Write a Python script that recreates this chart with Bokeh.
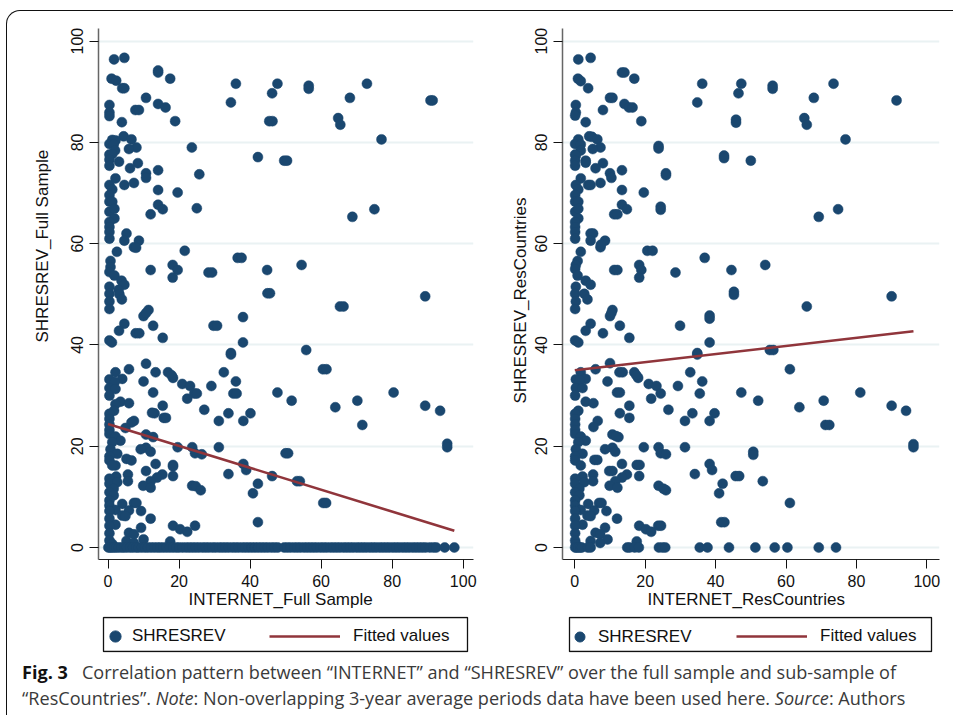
from bokeh.plotting import figure
from bokeh.layouts import column, row
from bokeh.models import Legend, LegendItem, FixedTicker, Range1d, Div, BoxAnnotation, Title
from bokeh.embed import file_html
from bokeh.resources import INLINE

ticks = [0, 20, 40, 60, 80, 100]
y_title_full = "SHRESREV_Full Sample"
x_title_full = "INTERNET_Full Sample"
y_title_res = "SHRESREV_ResCountries"
x_title_res = "INTERNET_ResCountries"
series_name = "SHRESREV"
fit_name = "Fitted values"

full_pts = [
(1.7,96.4),(4.6,96.7),(14.1,93.8),(14.1,94.2),(17.5,92.6),(1.0,92.6),(2.3,92.2),(4.0,90.7),(4.6,90.7),(36.0,91.6),(47.7,91.6),(56.5,91.2),(56.5,90.6),(72.9,91.6),(46.2,89.7),(10.7,88.8),(68.1,88.8),(90.8,88.3),(91.4,88.3),(34.6,87.9),(14.1,87.6),(16.2,86.9),(0.4,87.4),(7.7,86.4),(8.7,86.4),(0.4,85.9),(0.4,85.2),(3.9,84.0),(18.9,84.2),(45.4,84.2),(46.3,84.2),(64.8,84.8),(65.4,83.5),(4.4,81.2),(6.6,80.6),(1.2,80.5),(2.1,80.4),(0.4,79.7),(1.6,79.6),(77.0,80.6),(8.0,79.0),(5.9,78.7),(23.6,79.0),(2.0,78.4),(0.4,77.6),(1.2,77.7),(42.2,77.1),(0.4,76.6),(0.4,75.4),(3.1,76.2),(49.6,76.4),(50.4,76.4),(8.4,75.9),(6.2,74.9),(14.1,74.5),(10.7,73.9),(10.7,73.0),(25.7,73.7),(2.1,72.9),(0.4,71.6),(4.6,71.6),(7.3,72.0),(1.2,70.7),(14.1,70.6),(19.6,70.1),(0.4,69.6),(0.4,68.3),(1.2,68.3),(14.1,67.7),(15.4,66.8),(25.0,67.0),(75.0,66.8),(0.4,66.3),(1.8,66.9),(12.0,65.8),(68.8,65.3),(1.8,65.0),(0.4,64.3),(0.4,63.3),(0.4,62.3),(0.4,61.0),(5.2,62.0),(8.7,60.6),(4.6,60.6),(7.3,59.3),(7.9,59.2),(2.5,58.4),(21.6,58.6),(0.7,56.6),(36.5,57.2),(37.6,57.2),(0.7,55.4),(0.4,54.4),(54.5,55.8),(18.2,55.8),(12.0,54.8),(19.6,54.8),(44.8,54.8),(28.3,54.3),(29.3,54.3),(1.8,53.7),(18.2,53.3),(3.8,52.7),(4.6,51.9),(0.4,51.5),(3.0,50.9),(0.4,50.1),(44.9,50.2),(45.6,50.2),(3.2,50.0),(89.3,49.6),(3.9,49.0),(65.3,47.6),(66.3,47.6),(0.4,48.6),(0.4,47.1),(11.4,46.9),(10.0,45.7),(10.7,46.3),(38.0,45.5),(4.6,44.2),(12.7,43.8),(29.7,43.8),(30.7,43.8),(3.1,42.8),(7.8,42.3),(8.8,42.3),(15.4,41.4),(0.4,40.9),(1.1,40.5),(38.0,40.5),(34.6,38.4),(55.8,39.0),
(10.7,36.3),(34.6,38.1),(2.1,34.6),(5.9,35.2),(13.4,34.6),(16.9,34.6),(18.3,33.5),(17.9,34.0),(32.6,34.6),(60.5,35.2),(61.5,35.2),(0.4,33.2),(4.0,33.3),(1.9,32.7),(10.0,32.8),(36.0,32.8),(20.9,32.3),(23.1,31.9),(29.1,31.9),(0.4,31.5),(2.1,31.3),(12.7,30.6),(24.3,30.4),(25.0,30.4),(35.3,30.4),(36.2,30.4),(47.7,30.6),(80.4,30.6),(0.4,30.0),(22.3,29.4),(51.7,29.0),(70.2,29.0),(3.5,28.8),(2.1,28.3),(5.9,28.5),(15.4,28.0),(89.3,28.0),(93.5,27.0),(64.0,27.7),(27.1,27.2),(13.1,26.5),(12.4,26.6),(33.9,26.5),(40.1,26.5),(1.7,27.0),(0.4,26.4),(15.7,25.6),(16.3,25.6),(31.2,25.0),(38.1,25.0),(0.4,25.4),(7.3,25.0),(6.6,24.7),(71.6,24.2),(0.4,24.3),(4.9,23.6),(0.4,23.2),(0.4,22.4),(10.7,22.3),(12.7,21.8),(2.1,21.9),(3.5,21.1),(1.2,20.8),(95.5,20.5),(95.5,19.8),(19.6,19.8),(31.2,19.8),(23.7,19.8),(10.7,19.7),(9.2,19.4),(0.7,19.4),(12.0,18.9),(24.5,18.6),(26.4,18.4),(50.7,18.6),(50.0,18.6),(2.6,18.5),(0.4,18.0),(5.2,17.5),(6.6,17.2),(0.4,17.2),(2.1,16.2),(13.4,16.5),(18.3,16.3),(18.3,16.0),(38.1,16.5),(1.2,16.2),(38.9,15.3),(10.7,15.1),(5.6,14.4),(33.9,14.5),(15.3,14.4),(2.3,14.0),(18.3,14.1),(46.2,14.1),(0.4,13.6),(13.8,13.8),(5.6,13.1),(12.0,13.1),(53.2,13.1),(54.0,13.1),(0.4,12.6),(2.6,12.9),(42.2,12.6),(9.9,12.2),(23.7,12.2),(24.7,12.1),(1.6,11.6),(12.0,11.8),(26.1,11.3),(0.4,10.9),(40.8,10.7),(1.6,10.3),(0.4,9.3),(60.6,8.8),(61.4,8.8),(4.0,8.6),(7.3,8.8),(8.0,8.8),(0.4,8.3),(2.1,7.4),(9.3,7.2),(5.9,7.3),(0.4,7.2),(4.0,6.3),(4.9,6.2),(12.0,5.7),(0.4,5.7),(42.2,5.0),(2.1,4.5),(18.3,4.3),(24.5,4.3),(0.4,4.3),(9.3,3.9),(20.3,3.6),(22.3,3.1),(5.9,2.9),(0.4,2.8),(7.3,2.6),(5.2,1.3),(10.0,1.6),(17.5,1.2),(7.3,0.9),(0.4,1.4),(1.2,0.7),
]
full_x = [p[0] for p in full_pts]
full_y = [p[1] for p in full_pts]

full_zero_x = [0.1,0.6,1.1,1.7,2.3,3.0,3.8,4.5,5.3,6.2,7.0,7.9,8.6,9.5,10.4,11.2,12.1,13.0,13.9,14.7,15.6,16.5,17.4,18.3,19.2,20.0,21.0,22.0,22.9,23.8,24.7,25.6,26.6,27.5,28.4,29.4,30.3,31.3,32.2,33.1,34.0,35.0,35.9,36.8,37.8,38.7,39.6,40.5,41.4,42.3,43.2,44.1,45.0,46.0,46.9,47.8,49.6,50.5,51.4,52.4,53.3,54.2,55.2,56.1,57.0,57.9,58.8,59.8,60.7,61.6,62.6,63.5,64.4,65.3,66.3,67.2,68.1,69.0,70.0,70.9,71.8,72.7,73.7,74.6,75.5,76.5,77.4,78.3,79.2,80.2,81.1,82.0,83.0,83.9,84.8,85.8,86.7,87.6,88.5,89.4,90.6,91.6,92.4,94.8,97.5]
full_zero_y = [0.0 for _ in full_zero_x]

res_pts = [
(1.0,96.4),(4.5,96.7),(13.4,93.8),(14.1,93.8),(16.9,92.6),(0.9,92.6),(1.7,92.1),(3.8,90.7),(36.2,91.6),(47.3,91.6),(56.2,91.2),(56.2,90.6),(73.5,91.6),(46.5,89.7),(10.0,88.8),(10.7,88.8),(67.9,88.8),(91.4,88.3),(34.8,87.9),(14.1,87.6),(15.4,86.9),(16.4,86.9),(0.3,87.4),(8.0,86.4),(0.3,85.9),(0.1,85.3),(3.1,84.0),(18.9,84.2),(45.8,84.5),(45.8,83.9),(65.2,84.8),(65.9,83.5),(4.1,81.2),(4.9,81.1),(6.4,80.6),(1.0,80.6),(0.1,79.7),(1.7,79.6),(76.9,80.6),(7.3,79.0),(5.1,78.7),(23.8,79.3),(23.8,78.8),(1.7,78.4),(0.1,77.6),(0.3,77.4),(42.4,77.4),(42.4,76.9),(0.1,76.4),(0.1,75.4),(3.1,76.4),(3.1,76.0),(50.0,76.4),(8.0,75.9),(5.9,74.9),(13.4,74.5),(10.0,73.9),(10.4,73.0),(25.9,73.9),(25.9,73.5),(1.7,72.9),(0.3,71.6),(3.8,71.6),(4.5,71.6),(7.3,72.0),(1.0,70.7),(13.4,70.6),(19.6,70.1),(0.1,69.6),(0.1,68.3),(1.0,68.3),(13.4,67.7),(14.8,66.8),(24.4,67.3),(24.4,66.7),(74.8,66.8),(0.1,66.3),(1.0,66.9),(11.2,65.8),(12.1,65.8),(69.3,65.3),(1.0,65.0),(0.1,64.3),(0.1,63.3),(0.1,62.3),(0.1,61.0),(4.5,62.0),(5.2,62.0),(8.6,60.6),(4.5,60.6),(7.3,59.3),(7.4,59.8),(1.7,58.4),(20.6,58.6),(22.1,58.6),(0.8,56.6),(36.9,57.2),(0.3,55.8),(0.1,55.0),(54.1,55.8),(18.3,55.8),(11.2,54.8),(12.1,54.8),(18.9,54.8),(44.5,54.8),(28.6,54.3),(0.8,53.7),(18.3,53.3),(3.1,52.7),(4.5,51.9),(0.3,51.5),(0.1,50.1),(2.7,50.1),(45.2,50.5),(45.2,49.9),(90.0,49.6),(3.6,49.0),(65.9,47.6),(0.3,48.6),(0.1,47.1),(10.7,46.9),(10.0,45.7),(10.4,46.3),(38.3,45.8),(38.3,45.2),(4.5,44.2),(12.8,43.8),(29.9,43.8),(3.1,42.8),(8.0,42.3),(15.5,41.4),(0.1,40.9),(1.0,40.5),(38.3,40.5),(34.8,38.4),(55.4,39.0),(56.4,39.0),
(10.0,36.4),(34.8,38.1),(1.7,34.6),(5.9,35.2),(12.7,34.6),(13.6,34.6),(16.9,34.6),(18.0,33.5),(17.5,34.0),(32.8,34.6),(61.1,35.2),(0.3,33.2),(3.1,33.3),(1.4,33.0),(9.3,32.8),(36.2,32.8),(21.0,32.3),(23.2,31.9),(29.3,31.9),(0.3,31.5),(2.2,31.5),(12.0,30.6),(12.8,30.6),(24.4,30.4),(35.5,30.4),(47.3,30.6),(81.1,30.6),(0.1,30.0),(21.7,29.4),(52.1,29.0),(70.7,29.0),(3.1,28.8),(5.3,28.5),(15.5,28.0),(90.0,28.0),(94.1,27.0),(63.8,27.7),(26.6,27.2),(12.8,26.5),(33.4,26.5),(39.7,26.5),(1.0,27.0),(0.1,26.4),(15.5,25.6),(31.3,25.0),(38.3,25.0),(0.1,25.4),(6.5,25.0),(5.3,23.8),(71.2,24.2),(72.3,24.2),(0.1,24.3),(0.1,23.2),(0.1,22.4),(10.7,22.3),(12.4,21.8),(11.7,22.0),(1.7,21.9),(3.1,21.1),(1.0,20.8),(96.2,20.4),(96.2,19.8),(19.6,19.8),(31.3,19.8),(23.8,19.8),(10.7,19.7),(8.6,19.4),(0.3,19.4),(11.5,18.9),(24.4,18.6),(25.9,18.4),(50.7,18.9),(50.7,18.3),(2.2,18.5),(0.1,18.0),(5.6,17.3),(6.4,17.3),(0.1,17.2),(1.7,16.2),(13.4,16.5),(17.6,16.3),(18.4,16.3),(38.3,16.5),(39.0,15.3),(9.8,15.1),(10.7,15.1),(5.2,14.4),(34.1,14.5),(14.8,14.4),(2.2,14.0),(18.3,14.1),(45.7,14.1),(46.7,14.1),(0.1,13.6),(13.4,13.8),(5.2,13.1),(11.5,13.1),(53.4,13.1),(0.1,12.6),(2.7,12.9),(42.0,12.6),(9.9,12.2),(23.8,12.2),(1.3,11.6),(12.1,11.8),(25.9,11.3),(25.2,11.6),(0.1,10.9),(41.0,10.7),(1.3,10.3),(0.1,9.3),(61.1,8.8),(3.8,8.6),(6.9,8.8),(7.6,8.8),(0.1,8.3),(1.7,7.4),(9.0,7.2),(5.5,7.3),(0.1,7.2),(3.6,6.3),(4.5,6.2),(12.0,5.7),(0.1,5.7),(41.6,5.0),(42.5,5.0),(2.2,4.5),(18.3,4.3),(23.7,4.3),(24.5,4.3),(0.1,4.3),(8.6,3.9),(20.2,3.6),(21.7,3.1),(5.9,2.9),(0.1,2.8),(7.2,2.6),(4.5,1.3),(9.3,1.6),(17.6,1.2),(7.2,0.9),(0.1,1.4),(0.3,0.7),
]
res_x = [p[0] for p in res_pts]
res_y = [p[1] for p in res_pts]

res_zero_x = [0.1,0.5,1.0,1.5,2.0,3.7,4.5,14.9,15.6,17.0,18.2,23.9,24.9,25.7,35.5,37.7,43.8,51.3,56.8,60.4,69.3,74.2]
res_zero_y = [0.0 for _ in res_zero_x]

fit_full_x = [0.0, 97.5]
fit_full_y = [24.4, 3.3]
fit_res_x = [0.0, 96.2]
fit_res_y = [35.0, 42.7]

NAVY = "#1a476f"
MAROON = "#90353b"
FONT = "Liberation Sans"
NAN = float("nan")


def panel(xs, ys, fx, fy, xr, xlab, ylab, bl, fw, br, xoff, yoff, ystand):
    p = figure(width=bl + fw + br, height=17 + 531 + 53, frame_width=fw, frame_height=531,
               min_border_left=bl, min_border_right=br, min_border_top=17, min_border_bottom=53,
               x_range=Range1d(*xr), y_range=Range1d(-2.37, 102.5),
               output_backend="svg", toolbar_location=None, background_fill_color="white",
               border_fill_color=None, outline_line_color=None)
    p.xgrid.visible = False
    p.ygrid.grid_line_color = "#eaf2f3"
    p.ygrid.grid_line_width = 2
    p.ygrid.ticker = FixedTicker(ticks=ticks)
    for ax in (p.xaxis[0], p.yaxis[0]):
        ax.ticker = FixedTicker(ticks=ticks)
        ax.minor_tick_line_color = None
        ax.major_tick_in = 0
        ax.major_tick_out = 9
        ax.major_tick_line_color = "#111111"
        ax.major_tick_line_width = 1
        ax.major_label_text_font = FONT
        ax.major_label_text_font_size = "16px"
        ax.major_label_text_color = "#111111"
    p.xaxis[0].axis_line_color = "#222222"
    p.xaxis[0].axis_line_width = 1
    p.yaxis[0].axis_line_color = "#666666"
    p.yaxis[0].axis_line_width = 1.5
    p.xaxis[0].major_label_standoff = 6
    p.yaxis[0].major_label_orientation = "vertical"
    p.yaxis[0].major_label_standoff = 6
    style = dict(text_font=FONT, text_font_style="normal", text_font_size="17px", text_color="#111111", align="left")
    p.add_layout(Title(text=xlab, offset=xoff, standoff=-3, **style), "below")
    p.add_layout(Title(text=ylab, offset=yoff, standoff=ystand, **style), "left")
    p.scatter(xs, ys, size=10, marker="circle", fill_color=NAVY, line_color=NAVY, line_width=0.5)
    p.line(fx, fy, line_color=MAROON, line_width=2.6)
    return p


def legend_strip(bl, fw, br, box_l, box_r, loc_a, gw, s1, loc_b):
    s = figure(width=bl + fw + br, height=4 + 36 + 3, frame_width=fw, frame_height=36,
               min_border_left=bl, min_border_right=br, min_border_top=4, min_border_bottom=3,
               x_range=Range1d(0, fw), y_range=Range1d(0, 36), x_axis_location=None, y_axis_location=None,
               output_backend="svg", toolbar_location=None, background_fill_color=None,
               border_fill_color=None, outline_line_color=None)
    s.grid.visible = False
    s.add_layout(BoxAnnotation(left=box_l, right=box_r, bottom=1, top=35, fill_alpha=0,
                               line_color="#111111", line_width=1.3, line_alpha=1))
    pts = s.scatter([NAN], [NAN], size=10, marker="circle", fill_color=NAVY, line_color=NAVY)
    ln = s.line([NAN, NAN], [NAN, NAN], line_color=MAROON, line_width=2.6)
    common = dict(padding=0, margin=0, border_line_color=None, background_fill_alpha=0,
                  label_text_font=FONT, label_text_font_size="17px", label_text_color="#111111")
    s.add_layout(Legend(items=[LegendItem(label=series_name, renderers=[pts])], location=loc_a,
                        glyph_width=gw, glyph_height=gw, label_height=gw, label_standoff=s1, **common), "center")
    s.add_layout(Legend(items=[LegendItem(label=fit_name, renderers=[ln])], location=loc_b,
                        glyph_width=71, glyph_height=20, label_height=20, label_standoff=13, **common), "center")
    return s


left = panel(full_x + full_zero_x, full_y + full_zero_y, fit_full_x, fit_full_y, (-2.68, 102.9),
             x_title_full, y_title_full, 91, 375, 7, 90, 217, 34)
right = panel(res_x + res_zero_x, res_y + res_zero_y, fit_res_x, fit_res_y, (-3.49, 103.6),
              x_title_res, y_title_res, 82, 377, 6, 85, 156, 6)
left_leg = legend_strip(91, 375, 7, 5, 369, (3, 2), 28, 3, (171, 6))
right_leg = legend_strip(82, 377, 6, 7, 369, (5, 3), 25, 6, (174, 6))

caption = Div(text=(
    '<div style="font-family:\'Open Sans\';font-size:18.1px;line-height:26px;color:#3a3a3a;white-space:nowrap;'
    'padding-left:15px;padding-top:4px">'
    '<b style="color:#111;margin-right:14px">Fig. 3</b>Correlation pattern between “INTERNET” and “SHRESREV” over the full sample and sub-sample of<br>'
    '“ResCountries”. <i>Note</i>: Non-overlapping 3-year average periods data have been used here. <i>Source</i>: Authors'
    '</div>'), width=937, height=60, margin=(0, 0, 0, 0))

page = column(row(column(left, left_leg, spacing=0), column(right, right_leg, spacing=0), spacing=0),
              caption, spacing=0, margin=(10, 0, 0, 6),
              styles={"border-top": "1px solid #111", "border-left": "1px solid #111",
                      "border-top-left-radius": "14px", "width": "947px", "height": "705px"})
open("out.html", "w").write(file_html(page, INLINE))
